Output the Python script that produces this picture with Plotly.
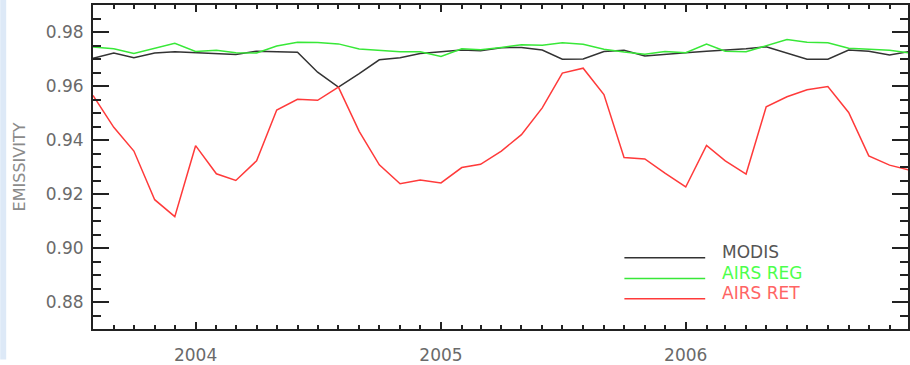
import pandas as pd
import plotly.graph_objects as go

# ---- data (monthly, Aug 2003 - Dec 2006) ----
months = pd.date_range("2003-08-01", "2006-12-01", freq="MS")

modis = [0.9703, 0.9722, 0.9705, 0.9722, 0.9727, 0.9723, 0.9718, 0.9717, 0.9729, 0.9726,
         0.9725, 0.9651, 0.9596, 0.9646, 0.9697, 0.9705, 0.9720, 0.9727, 0.9733, 0.9731,
         0.9742, 0.9743, 0.9733, 0.9699, 0.9700, 0.9728, 0.9732, 0.9711, 0.9718, 0.9723,
         0.9729, 0.9733, 0.9738, 0.9745, 0.9723, 0.9699, 0.9699, 0.9733, 0.9729, 0.9715,
         0.9728]

airs_reg = [0.9744, 0.9738, 0.9720, 0.9740, 0.9758, 0.9728, 0.9732, 0.9723, 0.9722, 0.9748,
            0.9762, 0.9761, 0.9756, 0.9737, 0.9733, 0.9727, 0.9727, 0.9709, 0.9738, 0.9734,
            0.9743, 0.9753, 0.9751, 0.9760, 0.9755, 0.9736, 0.9726, 0.9718, 0.9728, 0.9723,
            0.9755, 0.9729, 0.9727, 0.9750, 0.9772, 0.9762, 0.9760, 0.9740, 0.9736, 0.9732,
            0.9722]

airs_ret = [0.9565, 0.9447, 0.9359, 0.9179, 0.9116, 0.9379, 0.9275, 0.9250, 0.9323, 0.9511,
            0.9551, 0.9547, 0.9596, 0.9432, 0.9308, 0.9238, 0.9252, 0.9241, 0.9298, 0.9310,
            0.9359, 0.9420, 0.9519, 0.9648, 0.9666, 0.9568, 0.9335, 0.9330, 0.9277, 0.9226,
            0.9380, 0.9323, 0.9274, 0.9523, 0.9560, 0.9586, 0.9598, 0.9502, 0.9341, 0.9307,
            0.9288]

series_names = ["MODIS", "AIRS REG", "AIRS RET"]
line_colors = ["#333333", "#38e838", "#ff3a3a"]
text_colors = ["#555555", "#4cff4c", "#ff6464"]
series = [modis, airs_reg, airs_ret]

W, H = 910, 365
L, R, T, B = 93, 0, 5, 31
pw, ph = W - L - R, H - T - B

def px(x):
    return (x - L) / pw

def py(y):
    return (H - B - y) / ph

fig = go.Figure()
for name, vals, col in zip(series_names, series, line_colors):
    fig.add_trace(go.Scatter(x=months, y=vals, mode="lines", name=name,
                             line=dict(color=col, width=1.5), showlegend=False))

FONT = "DejaVu Sans"
axis_common = dict(showline=True, linecolor="#222222", linewidth=2, mirror="ticks",
                   ticks="inside", tickcolor="#222222", tickwidth=1.5,
                   showgrid=False, zeroline=False,
                   tickfont=dict(family=FONT, size=17, color="#6a6a6a"))

fig.update_xaxes(type="date", range=["2003-08-01", "2006-11-28 12:00"],
                 tick0="2004-01-01", dtick="M12", tickformat="%Y", ticklen=7,
                 ticklabelstandoff=10,
                 minor=dict(ticks="inside", dtick="M1", ticklen=4, tickcolor="#222222",
                            tickwidth=1.5, showgrid=False),
                 **axis_common)
fig.update_yaxes(range=[0.87, 0.99], dtick=0.02, tick0=0.88, tickformat=".2f", ticklen=16,
                 ticklabelstandoff=4,
                 minor=dict(ticks="inside", dtick=0.005, ticklen=8, tickcolor="#222222",
                            tickwidth=1.5, showgrid=False),
                 **axis_common)

shapes = []
annotations = []
# legend (manual, matching reference placement)
leg_line_y = [261.7, 282.7, 303.3]
leg_text_y = [255.5, 276.7, 297.5]
for name, lc, tc, ly, ty in zip(series_names, line_colors, text_colors, leg_line_y, leg_text_y):
    shapes.append(dict(type="line", xref="paper", yref="paper",
                       x0=px(625.7), x1=px(706.7), y0=py(ly), y1=py(ly),
                       line=dict(color=lc, width=1.5)))
    annotations.append(dict(xref="paper", yref="paper", x=px(722), y=py(ty),
                            xanchor="left", yanchor="middle", showarrow=False,
                            text=name, font=dict(family=FONT, size=17, color=tc)))

# y-axis title
annotations.append(dict(xref="paper", yref="paper", x=px(19), y=py(169.7),
                        xanchor="center", yanchor="middle", showarrow=False,
                        text="EMISSIVITY", textangle=-90,
                        font=dict(family=FONT, size=16, color="#8a8a8a")))

# pale blue strip at the left edge of the image
shapes.append(dict(type="rect", xref="paper", yref="paper", layer="below",
                   x0=px(0), x1=px(6), y0=py(H), y1=py(0),
                   fillcolor="#dde9f7", line=dict(width=0)))

fig.update_layout(width=W, height=H, margin=dict(l=L, r=R, t=T, b=B),
                  paper_bgcolor="white", plot_bgcolor="white",
                  shapes=shapes, annotations=annotations, showlegend=False)

fig.write_html("out.html")
